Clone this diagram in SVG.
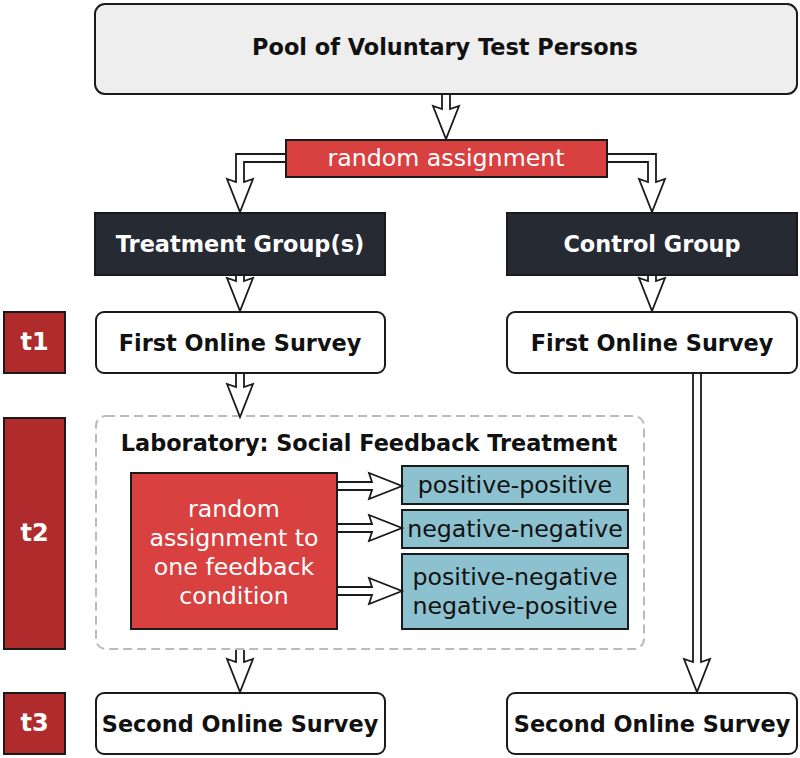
<svg xmlns="http://www.w3.org/2000/svg" width="800" height="758" viewBox="0 0 800 758">
<style>
  text { font-family: "DejaVu Sans", Verdana, sans-serif; text-anchor: middle; dominant-baseline: central; }
  .b { font-weight: bold; font-size: 22.4px; fill: #111; }
  .bw { font-weight: bold; font-size: 22.4px; fill: #fff; }
  .t { font-weight: bold; font-size: 24px; fill: #fff; }
  .r { font-size: 23.7px; fill: #111; }
  .rw { font-size: 23.7px; fill: #fff; }
  .box { stroke: #1a1a1a; stroke-width: 2; }
  .arrow { fill: #fff; stroke: #1a1a1a; stroke-width: 1.8; stroke-linejoin: miter; }
</style>
<rect width="800" height="758" fill="#fff"/>

<g id="pool">
  <rect class="box" x="95" y="4" width="702" height="90" rx="10" fill="#eeeeee"/>
  <text class="b" x="445" y="47">Pool of Voluntary Test Persons</text>
</g>
<g id="random-assignment">
  <rect class="box" x="286" y="140" width="321" height="37" fill="#d94141"/>
  <text class="rw" x="446" y="158">random assignment</text>
</g>
<g id="treatment-group">
  <rect class="box" x="95" y="213" width="290" height="62" fill="#262a33"/>
  <text class="bw" x="240" y="244">Treatment Group(s)</text>
</g>
<g id="control-group">
  <rect class="box" x="507" y="213" width="290" height="62" fill="#262a33"/>
  <text class="bw" x="652" y="244">Control Group</text>
</g>
<g id="t1">
  <rect class="box" x="4" y="312" width="61" height="61" fill="#b02c2c"/>
  <text class="t" x="34.5" y="342">t1</text>
</g>
<g id="first-survey-treatment">
  <rect class="box" x="96" y="312" width="289" height="61" rx="8" fill="#fff"/>
  <text class="b" x="240" y="343">First Online Survey</text>
</g>
<g id="first-survey-control">
  <rect class="box" x="507" y="312" width="290" height="61" rx="8" fill="#fff"/>
  <text class="b" x="652" y="343">First Online Survey</text>
</g>
<g id="t2">
  <rect class="box" x="4" y="418" width="61" height="231" fill="#b02c2c"/>
  <text class="t" x="34.5" y="533">t2</text>
</g>
<g id="laboratory">
  <rect x="96" y="416" width="548" height="233" rx="10" fill="none" stroke="#bbbbbb" stroke-width="2" stroke-dasharray="9,5"/>
  <text class="b" x="369" y="443">Laboratory: Social Feedback Treatment</text>
</g>
<g id="feedback-assignment">
  <rect class="box" x="131" y="473" width="206" height="156" fill="#d94141"/>
  <text class="rw" x="234" y="509">random</text>
  <text class="rw" x="234" y="538">assignment to</text>
  <text class="rw" x="234" y="567">one feedback</text>
  <text class="rw" x="234" y="596">condition</text>
</g>
<g id="positive-positive">
  <rect class="box" x="402" y="466" width="226" height="38" fill="#8cc2cf"/>
  <text class="r" x="515" y="485">positive-positive</text>
</g>
<g id="negative-negative">
  <rect class="box" x="402" y="510" width="226" height="38" fill="#8cc2cf"/>
  <text class="r" x="515" y="529">negative-negative</text>
</g>
<g id="mixed">
  <rect class="box" x="402" y="554" width="226" height="75" fill="#8cc2cf"/>
  <text class="r" x="515" y="577">positive-negative</text>
  <text class="r" x="515" y="606">negative-positive</text>
</g>
<g id="t3">
  <rect class="box" x="4" y="693" width="61" height="61" fill="#b02c2c"/>
  <text class="t" x="34.5" y="723">t3</text>
</g>
<g id="second-survey-treatment">
  <rect class="box" x="96" y="693" width="289" height="61" rx="8" fill="#fff"/>
  <text class="b" x="240" y="724">Second Online Survey</text>
</g>
<g id="second-survey-control">
  <rect class="box" x="507" y="693" width="290" height="61" rx="8" fill="#fff"/>
  <text class="b" x="652" y="724">Second Online Survey</text>
</g>

<g id="connectors">
  <!-- pool -> random assignment -->
  <path class="arrow" d="M442,95 L442,109 L433,106 L446,139 L459,106 L450,109 L450,95"/>
  <!-- random assignment -> treatment -->
  <path class="arrow" d="M285,154 L236,154 L236,182 L227,179 L240,212 L253,179 L244,182 L244,162 L285,162"/>
  <!-- random assignment -> control -->
  <path class="arrow" d="M608,154 L656,154 L656,182 L665,179 L652,212 L639,179 L648,182 L648,162 L608,162"/>
  <!-- treatment -> first survey -->
  <path class="arrow" d="M236,276 L236,281 L227,278 L240,311 L253,278 L244,281 L244,276"/>
  <!-- control -> first survey -->
  <path class="arrow" d="M648,276 L648,281 L639,278 L652,311 L665,278 L656,281 L656,276"/>
  <!-- first survey -> lab -->
  <path class="arrow" d="M236,374 L236,387 L227,384 L240,417 L253,384 L244,387 L244,374"/>
  <!-- lab -> second survey -->
  <path class="arrow" d="M236,650 L236,662 L227,659 L240,692 L253,659 L244,662 L244,650"/>
  <!-- control first survey -> second survey -->
  <path class="arrow" d="M693,374 L693,662 L684,659 L697,692 L710,659 L701,662 L701,374"/>
  <!-- feedback arrows -->
  <path class="arrow" d="M338,482 L372,482 L369,473 L402,486 L369,499 L372,490 L338,490"/>
  <path class="arrow" d="M338,524 L372,524 L369,515 L402,528 L369,541 L372,532 L338,532"/>
  <path class="arrow" d="M338,587 L372,587 L369,578 L402,591 L369,604 L372,595 L338,595"/>
</g>
</svg>
